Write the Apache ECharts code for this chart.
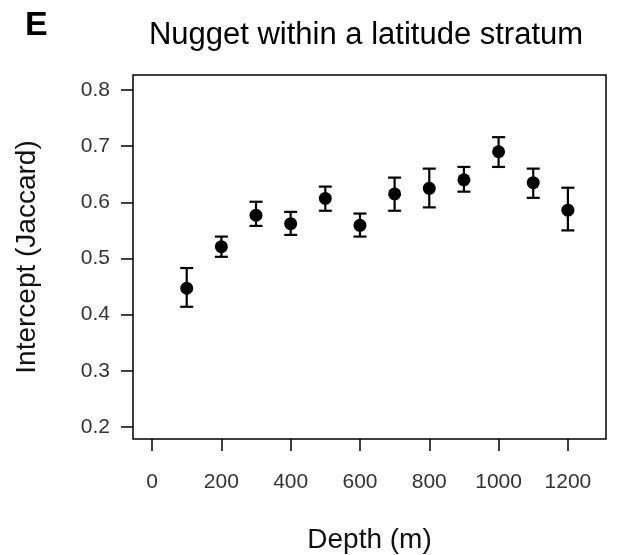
<!DOCTYPE html>
<html>
<head>
<meta charset="utf-8">
<script src="https://cdn.jsdelivr.net/npm/echarts@6/dist/echarts.min.js"></script>
<style>
html,body{margin:0;padding:0;background:#fff;}
#main{width:624px;height:555px;}
</style>
</head>
<body>
<div id="main"></div>
<script>
// depth (m)
var depths = [100, 200, 300, 400, 500, 600, 700, 800, 900, 1000, 1100, 1200];
// intercept (Jaccard) and error bar ends
var means = [0.447, 0.521, 0.577, 0.562, 0.607, 0.559, 0.615, 0.625, 0.640, 0.690, 0.635, 0.586];
var lows  = [0.414, 0.503, 0.558, 0.542, 0.585, 0.539, 0.585, 0.591, 0.619, 0.663, 0.608, 0.550];
var highs = [0.483, 0.539, 0.601, 0.583, 0.628, 0.580, 0.644, 0.660, 0.663, 0.716, 0.660, 0.626];
var xTicks = [0, 200, 400, 600, 800, 1000, 1200];
var yTicks = [0.2, 0.3, 0.4, 0.5, 0.6, 0.7, 0.8];

var font = 'Liberation Sans, Arial, sans-serif';

function $each(arr, fn){ for (var i = 0; i < arr.length; i++) fn(i, arr[i]); }

function drawChart(){
    var myChart = echarts.init(document.getElementById('main'));
    var pts = [], bars = [];
    $each(depths, function(i, d){
        pts.push([d, means[i]]);
        bars.push([d, lows[i], highs[i]]);
    });
    var option = {
        animation: false,
        backgroundColor: '#fff',
        title: [
            {text: 'E', left: 20, top: 4, textStyle: {fontFamily: font, fontSize: 34, fontWeight: 'bold', color: '#000'}},
            {text: 'Nugget within a latitude stratum', left: 361, textAlign: 'center', top: 15,
             textStyle: {fontFamily: font, fontSize: 31, fontWeight: 'normal', color: '#000'}}
        ],
        grid: {left: 133, top: 75, width: 473, height: 364, outerBoundsMode: 'none', containLabel: false,
               show: true, borderColor: '#000', borderWidth: 1.5, backgroundColor: 'transparent'},
        xAxis: {
            type: 'value', min: -55, max: 1310,
            name: 'Depth (m)', nameLocation: 'middle', nameGap: 87,
            nameTextStyle: {fontFamily: font, fontSize: 28, color: '#111'},
            axisLine: {show: false, onZero: false},
            axisTick: {show: true, inside: false, length: 12, customValues: xTicks, lineStyle: {color: '#000', width: 1.5}},
            axisLabel: {customValues: xTicks, margin: 33, fontFamily: font, fontSize: 21, color: '#333',
                formatter: function(v){ return String(v); }},
            splitLine: {show: false}
        },
        yAxis: {
            type: 'value', min: 0.1786, max: 0.8267,
            name: 'Intercept (Jaccard)', nameLocation: 'middle', nameGap: 92,
            nameTextStyle: {fontFamily: font, fontSize: 28, color: '#111'},
            axisLine: {show: false, onZero: false},
            axisTick: {show: true, inside: false, length: 12, customValues: yTicks, lineStyle: {color: '#000', width: 1.5}},
            axisLabel: {customValues: yTicks, margin: 23, fontFamily: font, fontSize: 21, color: '#333',
                formatter: function(v){ return v.toFixed(1); }},
            splitLine: {show: false}
        },
        series: [
            {
                type: 'custom',
                data: bars,
                renderItem: function(params, api){
                    var top = api.coord([api.value(0), api.value(2)]);
                    var bot = api.coord([api.value(0), api.value(1)]);
                    var hw = 6.5;
                    var st = {stroke: '#000', lineWidth: 2.2};
                    return {
                        type: 'group',
                        children: [
                            {type: 'line', shape: {x1: top[0], y1: top[1], x2: bot[0], y2: bot[1]}, style: st},
                            {type: 'line', shape: {x1: top[0]-hw, y1: top[1], x2: top[0]+hw, y2: top[1]}, style: st},
                            {type: 'line', shape: {x1: bot[0]-hw, y1: bot[1], x2: bot[0]+hw, y2: bot[1]}, style: st}
                        ]
                    };
                },
                z: 2
            },
            {
                type: 'scatter',
                data: pts,
                symbol: 'circle',
                symbolSize: 13,
                itemStyle: {color: '#000', opacity: 1},
                z: 3
            }
        ]
    };
    myChart.setOption(option);
}
drawChart();
</script>
</body>
</html>
